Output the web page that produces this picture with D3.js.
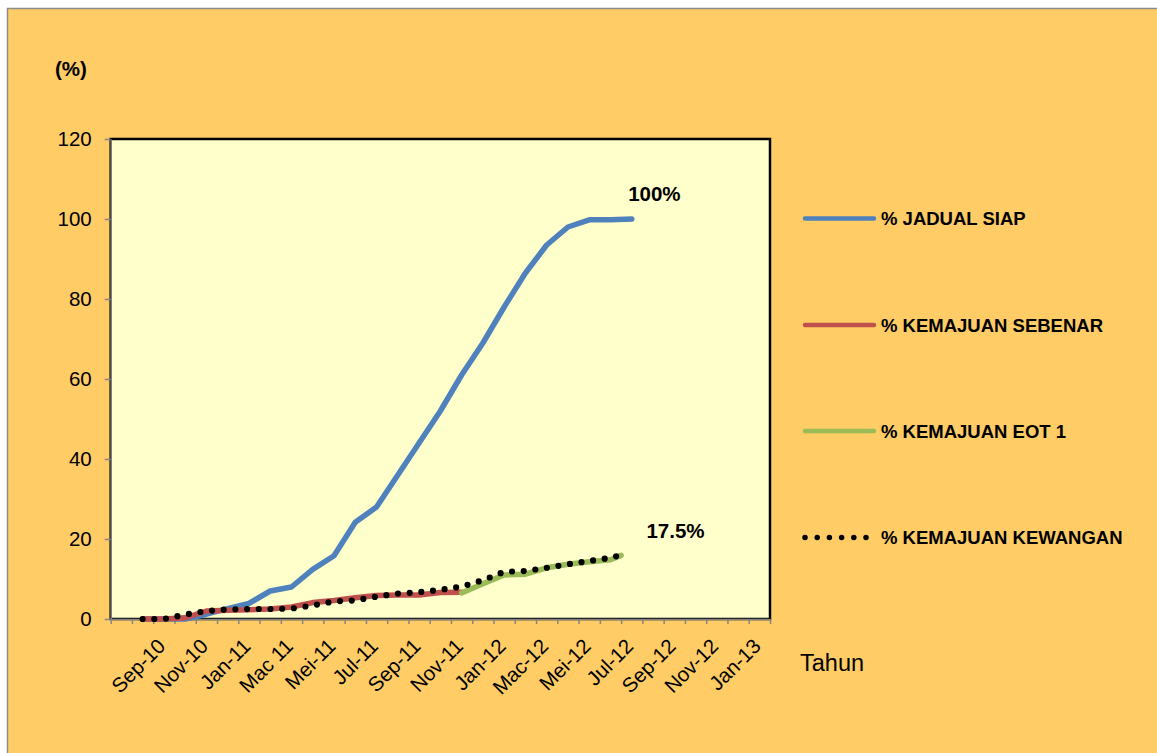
<!DOCTYPE html>
<html>
<head>
<meta charset="utf-8">
<script src="https://cdn.jsdelivr.net/npm/d3@7"></script>
<style>
  body { margin: 0; background: #ffffff; }
  text { font-family: "Liberation Sans", Arial, sans-serif; }
</style>
</head>
<body>
<div id="chart"></div>
<script>

// Chart size, plot box
const width = 1157;
const height = 753;
const plot = {left: 110.7, right: 770, top: 139, bottom: 619};

// months on the category axis
const months = ["Jul-10","Ogos-10","Sep-10","Okt-10","Nov-10","Dis-10",
  "Jan-11","Feb-11","Mac 11","Apr-11","Mei-11","Jun-11","Jul-11","Ogos-11","Sep-11","Okt-11","Nov-11","Dis-11",
  "Jan-12","Feb-12","Mac-12","Apr-12","Mei-12","Jun-12","Jul-12","Ogos-12","Sep-12","Okt-12","Nov-12","Dis-12",
  "Jan-13"];

// labels shown under the axis
const tickLabels = ["Sep-10","Nov-10","Jan-11","Mac 11","Mei-11","Jul-11","Sep-11","Nov-11",
  "Jan-12","Mac-12","Mei-12","Jul-12","Sep-12","Nov-12","Jan-13"];

const yTicks = [0, 20, 40, 60, 80, 100, 120];

// series values, one per month (null = no data)
const jadualSiap = [null, 0, 0, 0, 1.2, 2.6, 3.9, 7, 8, 12.4, 15.8, 24.2, 28, 36, 44, 52, 61, 69, 78, 86.5,
  93.5, 98, 99.8, 99.8, 100, null, null, null, null, null, null];
const kemajuanSebenar = [null, 0, 0, 0.3, 2.0, 2.2, 2.3, 2.5, 3.0, 4.1, 4.6, 5.3, 5.9, 6.0, 6.0, 6.6, 6.7,
  null, null, null, null, null, null, null, null, null, null, null, null, null, null];
const kemajuanEot = [null, null, null, null, null, null, null, null, null, null, null, null, null, null, null, null,
  6.5, 8.8, 11.0, 11.2, 12.8, 13.7, 14.3, 14.8, null, null, null, null, null, null, null];
const kemajuanKewangan = [null, 0, 0, 1.1, 2.0, 2.4, 2.5, 2.5, 2.6, 3.4, 4.4, 4.65, 5.6, 6.35, 6.7, 7.3, 8.1,
  9.7, 11.8, 12.0, 12.8, 13.7, 14.5, 15.3, null, null, null, null, null, null, null];

// last report taken at the end of Jun-12
const lastReportMonth = "Jun-12";
const eotEnd = 15.9;
const kewanganEnd = 16.0;

const legendNames = ["% JADUAL SIAP", "% KEMAJUAN SEBENAR", "% KEMAJUAN EOT 1", "% KEMAJUAN KEWANGAN"];
const colors = ["#4f81bd", "#c0504d", "#9bbb59", "#000000"];

const svg = d3.select("#chart")
  .append("svg")
  .attr("width", width)
  .attr("height", height);

// chart area background with grey frame
svg.append("rect")
  .attr("x", 7.5).attr("y", 8.5)
  .attr("width", width + 20).attr("height", height + 20)
  .attr("fill", "#ffcc66")
  .attr("stroke", "#8c8c8c")
  .attr("stroke-width", 1.5);

// scales: x is month position (month i spans i..i+1)
const xScale = d3.scaleLinear()
  .domain([0, months.length])
  .range([plot.left, plot.right]);

const yScale = d3.scaleLinear()
  .domain([0, 120])
  .range([plot.bottom, plot.top]);

const xMid = i => xScale(i + 0.5);

// plot area
svg.append("rect")
  .attr("x", plot.left).attr("y", plot.top)
  .attr("width", plot.right - plot.left)
  .attr("height", plot.bottom - plot.top)
  .attr("fill", "#ffffcc")
  .attr("stroke", "#000000")
  .attr("stroke-width", 2.5);

// y axis
const yAxis = svg.append("g")
  .attr("transform", `translate(${plot.left},0)`)
  .call(d3.axisLeft(yScale).tickValues(yTicks).tickSize(6).tickSizeOuter(0).tickPadding(13));
yAxis.select(".domain").attr("stroke", "#868686").attr("stroke-width", 1.5);
yAxis.selectAll(".tick line").attr("stroke", "#868686").attr("stroke-width", 1.5);
yAxis.selectAll(".tick text").attr("font-size", "20.5px").attr("fill", "#000");

// x axis, a tick between every month
const xAxis = svg.append("g")
  .attr("transform", `translate(0,${plot.bottom})`)
  .call(d3.axisBottom(xScale).tickValues(d3.range(0, months.length + 1)).tickSize(5)
    .tickSizeOuter(0).tickFormat(""));
xAxis.select(".domain").attr("stroke", "#868686").attr("stroke-width", 1.5);
xAxis.selectAll(".tick line").attr("stroke", "#868686").attr("stroke-width", 1.5);

// rotated month labels
svg.append("g")
  .selectAll("text")
  .data(tickLabels)
  .enter()
  .append("text")
    .attr("transform", d => `translate(${xMid(months.indexOf(d)) + 2.8},${plot.bottom + 28.5}) rotate(-45)`)
    .attr("text-anchor", "end")
    .attr("font-size", "20.5px")
    .attr("fill", "#000")
    .text(d => d);

// build point lists for each series
const toPoints = arr => arr.map((v, i) => v == null ? null : [xMid(i), yScale(v)]).filter(p => p);
const endX = xScale(months.indexOf(lastReportMonth) + 1);

const seriesPoints = [
  toPoints(jadualSiap),
  toPoints(kemajuanSebenar),
  toPoints(kemajuanEot).concat([[endX, yScale(eotEnd)]]),
  toPoints(kemajuanKewangan).concat([[endX, yScale(kewanganEnd)]])
];

const line = d3.line();

seriesPoints.forEach((pts, k) => {
  const path = svg.append("path")
    .attr("d", line(pts))
    .attr("fill", "none")
    .attr("stroke", colors[k])
    .attr("stroke-linejoin", "round")
    .attr("stroke-linecap", "round");
  if (k === 3) {
    path.attr("stroke-width", 6.2).attr("stroke-dasharray", "0 11.7");
  } else {
    path.attr("stroke-width", 5.5);
  }
});

// value notes
svg.append("text")
  .attr("x", xScale(24) + 7).attr("y", yScale(100) - 18.5)
  .attr("font-size", "20.5px").attr("font-weight", "bold")
  .text("100%");

svg.append("text")
  .attr("x", xScale(25) + 4).attr("y", yScale(20) - 1)
  .attr("font-size", "20.5px").attr("font-weight", "bold")
  .text("17.5%");

// axis titles
svg.append("text")
  .attr("x", 55).attr("y", 75.5)
  .attr("font-size", "20.5px").attr("font-weight", "bold")
  .text("(%)");

svg.append("text")
  .attr("x", 800).attr("y", 671)
  .attr("font-size", "23.5px")
  .text("Tahun");

// legend
const legendRows = [218.5, 325, 431, 537.5];
const legend = svg.append("g");
legendNames.forEach((name, k) => {
  const y = legendRows[k];
  if (k === 3) {
    legend.append("line")
      .attr("x1", 805).attr("x2", 867).attr("y1", y).attr("y2", y)
      .attr("stroke", colors[k]).attr("stroke-width", 5.5)
      .attr("stroke-linecap", "round").attr("stroke-dasharray", "0 12.2");
  } else {
    legend.append("line")
      .attr("x1", 805).attr("x2", 874).attr("y1", y).attr("y2", y)
      .attr("stroke", colors[k]).attr("stroke-width", 4.5)
      .attr("stroke-linecap", "round");
  }
  legend.append("text")
    .attr("x", 881).attr("y", y + 6.5)
    .attr("font-size", "18.5px").attr("font-weight", "bold")
    .text(name);
});

</script>
</body>
</html>
